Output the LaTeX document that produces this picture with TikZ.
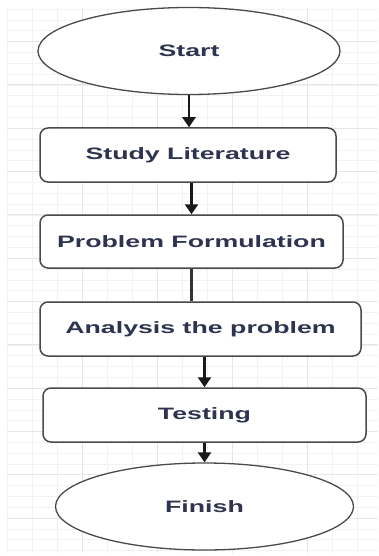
\documentclass[tikz,border=0pt]{standalone}
\usepackage{graphicx}
\usepackage{fontspec}
\setmainfont{Liberation Sans}
\usetikzlibrary{shapes.geometric,arrows.meta}

% wide bold label text
\newcommand{\flowlabel}[1]{\scalebox{1.62}[1]{\bfseries #1}}

\definecolor{gridminor}{HTML}{F2F2F2}
\definecolor{gridmajor}{HTML}{E6E6E6}
\definecolor{outline}{HTML}{4A4A4A}
\definecolor{labeltext}{HTML}{2E3350}

\tikzset{
  terminal/.style={ellipse, draw=outline, line width=1.3pt, fill=white,
    inner sep=0pt, font=\fontsize{16.5}{18}\selectfont, text=labeltext},
  process/.style={rectangle, rounded corners=8pt, draw=outline, line width=1.5pt,
    fill=white, inner sep=0pt, font=\fontsize{16.5}{18}\selectfont, text=labeltext},
  flow/.style={draw=black!90, line width=2.5pt,
    -{Triangle[width=13pt,length=10pt]}},
  plainflow/.style={draw=black!80, line width=2.5pt},
}

\begin{document}
\begin{tikzpicture}[x=1pt, y=-1pt]
  \useasboundingbox (0,0) rectangle (378,556);
  \fill[white] (0,0) rectangle (378,556);

  % background grid
  \foreach \gx in {7,32,...,378} {
    \draw[gridminor, line width=0.8pt] (\gx,8) -- (\gx,553);
  }
  \foreach \gy in {0,...,50} {
    \draw[gridminor, line width=0.8pt] (7,{9.2+10.83*\gy}) -- (378,{9.2+10.83*\gy});
  }
  \foreach \gx in {82,157,232,307} {
    \draw[gridmajor, line width=1pt] (\gx,8) -- (\gx,553);
  }
  \foreach \gy in {0,...,12} {
    \draw[gridmajor, line width=1pt] (7,{41.7+43.3*\gy}) -- (378,{41.7+43.3*\gy});
  }

  % flowchart nodes
  \node[terminal, minimum width=302pt, minimum height=87pt] (start) at (189,51) {\flowlabel{Start}};
  \node[process, minimum width=296pt, minimum height=54pt] (study) at (188,155) {\flowlabel{Study Literature}};
  \node[process, minimum width=303pt, minimum height=53pt] (formulate) at (191.5,241.5) {\flowlabel{Problem Formulation}};
  \node[process, minimum width=321pt, minimum height=54pt] (analyse) at (200.5,329) {\flowlabel{Analysis the problem}};
  \node[process, minimum width=323pt, minimum height=54pt] (testing) at (204.5,415) {\flowlabel{Testing}};
  \node[terminal, minimum width=298pt, minimum height=87pt] (finish) at (204.5,506.5) {\flowlabel{Finish}};

  % connectors
  \draw[flow] (start.south) -- (start.south |- study.north);
  \draw[flow] (formulate.north |- study.south) -- (formulate.north);
  \draw[plainflow] (formulate.south) -- (formulate.south |- analyse.north);
  \draw[flow] (testing.north |- analyse.south) -- (testing.north);
  \draw[flow] (testing.south) -- (finish.north);
\end{tikzpicture}
\end{document}
